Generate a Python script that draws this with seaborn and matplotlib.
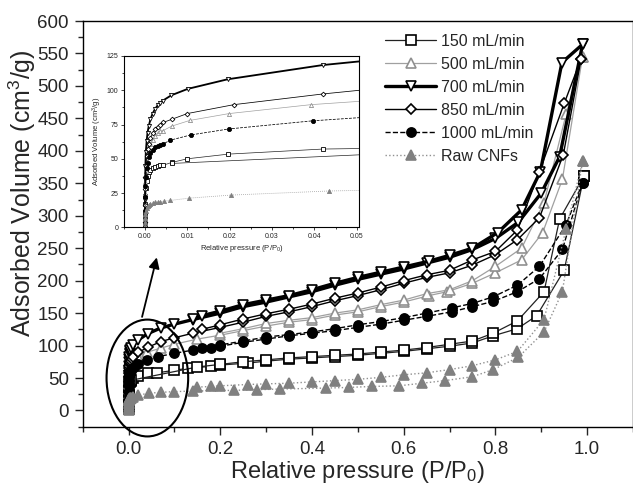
import numpy as np
import matplotlib
matplotlib.use("Agg")
import matplotlib.pyplot as plt
import seaborn as sns
from matplotlib.patches import Ellipse
from matplotlib.ticker import MultipleLocator, FormatStrFormatter

# ---- data (P/P0, adsorbed volume cm3/g) ----
p150_ads = [0.00001, 0.00003, 0.00006, 0.0001, 0.0002, 0.0004, 0.0006, 0.0009, 0.0013, 0.0018,
            0.0024, 0.003, 0.0036, 0.0043, 0.0063, 0.010, 0.0197, 0.042, 0.063, 0.10, 0.13, 0.18,
            0.20, 0.26, 0.30, 0.35, 0.40, 0.45, 0.50, 0.55, 0.60, 0.65, 0.70, 0.75, 0.795, 0.848,
            0.89, 0.95, 0.993]
v150_ads = [2, 9, 17, 23, 29, 34, 37.5, 40, 42, 43.5, 44.3, 44.8, 45.1, 45.3, 47.3, 50, 53.4,
            57.1, 58, 62, 65, 68, 70, 73, 76, 79, 81, 83, 85, 88, 91, 95, 99, 104, 115, 126, 146,
            216, 361]
p150_des = [0.993, 0.94, 0.906, 0.848, 0.795, 0.75, 0.70, 0.65, 0.60, 0.55, 0.50, 0.45, 0.40,
            0.35, 0.30, 0.25, 0.20, 0.15, 0.0063]
v150_des = [361, 295, 183, 138, 119, 107, 102, 97, 93, 90, 87, 85, 83, 81, 78, 75, 71, 67, 46.6]

p500_ads = [0.00001, 0.00003, 0.00006, 0.0001, 0.0002, 0.0004, 0.0006, 0.0009, 0.0013, 0.0018,
            0.0024, 0.003, 0.0036, 0.0043, 0.0063, 0.0106, 0.0199, 0.0392, 0.07, 0.10, 0.15, 0.20,
            0.25, 0.30, 0.35, 0.40, 0.45, 0.50, 0.55, 0.60, 0.655, 0.695, 0.75, 0.80, 0.857,
            0.903, 0.946, 0.99]
v500_ads = [3, 14, 25, 33, 41, 48, 53, 57, 61, 64, 66.5, 68.5, 70, 70.6, 73.8, 78, 83, 89.5,
            96, 102, 110, 116, 123, 130, 136, 140, 147, 152, 160, 167, 177, 183, 196, 212, 232,
            274, 356, 545]
p500_des = [0.99, 0.954, 0.906, 0.857, 0.80, 0.75, 0.70, 0.65, 0.60, 0.55, 0.50, 0.45, 0.40,
            0.35, 0.30, 0.25, 0.20]
v500_des = [545, 456, 320, 250, 222, 200, 186, 180, 170, 163, 155, 150, 143, 139, 134, 126, 119]

p700_ads = [0.00001, 0.00003, 0.00006, 0.0001, 0.0002, 0.0004, 0.0006, 0.0009, 0.0013, 0.0018,
            0.0024, 0.003, 0.0036, 0.0042, 0.0062, 0.0101, 0.0195, 0.042, 0.07, 0.10, 0.14, 0.20,
            0.25, 0.30, 0.35, 0.40, 0.45, 0.50, 0.55, 0.60, 0.65, 0.70, 0.75, 0.80, 0.85, 0.90,
            0.94, 0.99]
v700_ads = [5, 20, 35, 45, 55, 63, 69, 74, 79, 83, 86.5, 89, 91, 92.4, 96.3, 101, 108, 118.4,
            127, 133, 140, 150, 160, 167, 175, 183, 193, 202, 210, 218, 227, 236, 248, 265, 290,
            335, 391, 564]
p700_des = [0.99, 0.945, 0.898, 0.857, 0.805, 0.75, 0.70, 0.655, 0.60, 0.55, 0.50, 0.45, 0.40,
            0.35, 0.30, 0.25, 0.20, 0.16, 0.14]
v700_des = [564, 536, 368, 309, 274, 250, 239, 230, 221, 213, 205, 196, 186, 177, 170, 163, 153,
            146, 141]

p850_ads = [0.00001, 0.00003, 0.00006, 0.0001, 0.0002, 0.0004, 0.0006, 0.0009, 0.0013, 0.0018,
            0.0024, 0.003, 0.0036, 0.0043, 0.0065, 0.010, 0.021, 0.042, 0.07, 0.10, 0.14, 0.20,
            0.25, 0.30, 0.35, 0.40, 0.45, 0.50, 0.55, 0.60, 0.65, 0.70, 0.75, 0.80, 0.848, 0.896,
            0.948, 0.987]
v850_ads = [4, 16, 28, 37, 45, 52, 57, 61, 65, 68.5, 71.5, 73.5, 75, 76.5, 79, 83, 89.5, 97.3,
            106, 112, 119, 128, 136, 145, 152, 160, 169, 177, 186, 196, 205, 212, 224, 240, 263,
            297, 394, 542]
p850_des = [0.987, 0.95, 0.896, 0.848, 0.80, 0.75, 0.70, 0.65, 0.60, 0.55, 0.50, 0.45, 0.40,
            0.35, 0.30, 0.25, 0.20, 0.16]
v850_des = [542, 473, 368, 278, 245, 232, 216, 209, 200, 190, 181, 173, 164, 156, 149, 141, 132,
            125]

p1000_ads = [0.00001, 0.00003, 0.00006, 0.0001, 0.0002, 0.0004, 0.0006, 0.0009, 0.0013, 0.0018,
             0.0024, 0.003, 0.0036, 0.0043, 0.0059, 0.0108, 0.0199, 0.0396, 0.065, 0.10, 0.14,
             0.18, 0.20, 0.25, 0.30, 0.35, 0.40, 0.45, 0.50, 0.55, 0.60, 0.65, 0.705, 0.75, 0.795,
             0.848, 0.896, 0.946, 0.99]
v1000_ads = [3, 12, 22, 30, 37, 43, 47, 51, 54, 56.5, 58.5, 59.5, 60.2, 60.8, 63.5, 67.4, 71.8,
             77.7, 83, 88, 93, 97, 99, 105, 110, 115, 119, 123, 128, 133, 139, 145, 152, 160, 168,
             183, 203, 248, 351]
p1000_des = [0.99, 0.954, 0.896, 0.848, 0.795, 0.75, 0.705, 0.65, 0.60, 0.55, 0.50, 0.45, 0.40,
             0.35, 0.30, 0.25, 0.20, 0.16]
v1000_des = [351, 286, 222, 193, 175, 165, 158, 150, 143, 137, 132, 126, 121, 117, 113, 107, 101,
             96]

praw_ads = [0.00001, 0.00003, 0.00006, 0.0001, 0.0002, 0.0004, 0.0006, 0.0009, 0.0013, 0.0018,
            0.0024, 0.003, 0.0036, 0.0045, 0.0059, 0.0105, 0.0203, 0.0435, 0.07, 0.10, 0.14, 0.23,
            0.28, 0.33, 0.43, 0.48, 0.53, 0.59, 0.64, 0.69, 0.75, 0.795, 0.85, 0.906, 0.946, 0.99]
vraw_ads = [1, 4, 7, 9.5, 12, 14, 15.5, 16.5, 17.3, 17.8, 18.2, 18.5, 18.8, 19.0, 19.6, 21.3,
            23.5, 26.5, 28, 29, 30, 31, 32, 33, 34.5, 35.5, 37, 38, 42, 46, 52, 63, 82, 121, 183,
            384]
praw_des = [0.99, 0.954, 0.906, 0.848, 0.80, 0.75, 0.70, 0.65, 0.60, 0.55, 0.50, 0.45, 0.40,
            0.35, 0.30, 0.26, 0.20, 0.18, 0.15]
vraw_des = [384, 279, 140, 91, 78, 69, 63, 58, 55, 51, 48, 46, 44, 42, 41, 40, 38, 37, 36]

labels = ["150 mL/min", "500 mL/min", "700 mL/min", "850 mL/min", "1000 mL/min", "Raw CNFs"]

series = [
    (p150_ads, v150_ads, p150_des, v150_des,
     dict(color="#222222", lw=0.9, ls="-", marker="s", mfc="white", mec="black")),
    (p500_ads, v500_ads, p500_des, v500_des,
     dict(color="#a0a0a0", lw=0.9, ls="-", marker="^", mfc="white", mec="#909090")),
    (p700_ads, v700_ads, p700_des, v700_des,
     dict(color="black", lw=2.4, ls="-", marker="v", mfc="white", mec="black")),
    (p850_ads, v850_ads, p850_des, v850_des,
     dict(color="black", lw=1.0, ls="-", marker="D", mfc="white", mec="black")),
    (p1000_ads, v1000_ads, p1000_des, v1000_des,
     dict(color="black", lw=1.0, ls="--", marker="o", mfc="black", mec="black")),
    (praw_ads, vraw_ads, praw_des, vraw_des,
     dict(color="#909090", lw=1.0, ls=":", marker="^", mfc="#808080", mec="#808080")),
]

sns.set_style("ticks")
plt.rcParams["font.family"] = ["Liberation Sans", "DejaVu Sans"]
plt.rcParams["mathtext.default"] = "regular"

fig = plt.figure(figsize=(6.33, 4.90), dpi=100)
ax = fig.add_axes([82.7 / 633, 1 - 426.7 / 490, (633 - 82.7) / 633, (426.7 - 21) / 490])
axin = fig.add_axes([123.8 / 633, 1 - 227.3 / 490, (358.8 - 123.8) / 633, (227.3 - 56) / 490])


def draw(target, p, v, st, ms, mew, label=None, lw_scale=1.0):
    sz = ms * (0.8 if st["marker"] == "D" else 1.0)
    sns.lineplot(x=p, y=v, ax=target, sort=False, estimator=None, color=st["color"],
                 linewidth=st["lw"] * lw_scale, linestyle=st["ls"], marker=st["marker"],
                 markersize=sz, markerfacecolor=st["mfc"], markeredgecolor=st["mec"],
                 markeredgewidth=mew, label=label)


for (pa, va, pd_, vd, st), lab in zip(series, labels):
    draw(ax, pa, va, st, 6.6, 1.2, label=lab)
    draw(ax, pd_, vd, st, 6.6, 1.2)
    draw(axin, pa, va, st, 3.0, 0.6, lw_scale=0.55)
    draw(axin, pd_, vd, st, 3.0, 0.6, lw_scale=0.55)

# main axes
ax.set_xlim(-0.1, 1.1)
ax.set_ylim(-25, 600)
ax.xaxis.set_major_locator(MultipleLocator(0.2))
ax.xaxis.set_minor_locator(MultipleLocator(0.1))
ax.yaxis.set_major_locator(MultipleLocator(50))
ax.yaxis.set_minor_locator(MultipleLocator(25))
ax.tick_params(which="major", direction="out", length=6, width=1, labelsize=13.5, pad=4)
ax.tick_params(which="minor", direction="out", length=3.5, width=1)
ax.set_xlabel("Relative pressure (P/P$_0$)", fontsize=17, labelpad=1)
ax.set_ylabel("Adsorbed Volume (cm$^3$/g)", fontsize=18)
ax.yaxis.set_label_coords(-0.082, 0.575)
for s in ax.spines.values():
    s.set_linewidth(1.0)
    s.set_color("black")

leg = ax.legend(loc="upper left", bbox_to_anchor=(385 / 633, 1 - 34 / 490),
                bbox_transform=fig.transFigure, frameon=False, fontsize=11.5,
                handlelength=3.2, handletextpad=0.3, labelspacing=0.5, borderpad=0,
                borderaxespad=0)

# inset axes
axin.set_xlim(-0.005, 0.0505)
axin.set_ylim(0, 125)
axin.xaxis.set_major_locator(MultipleLocator(0.01))
axin.xaxis.set_minor_locator(MultipleLocator(0.005))
axin.yaxis.set_major_locator(MultipleLocator(25))
axin.yaxis.set_minor_locator(MultipleLocator(12.5))
axin.xaxis.set_major_formatter(FormatStrFormatter("%.2f"))
axin.tick_params(which="major", direction="out", length=2.5, width=0.6, labelsize=5, pad=1.5)
axin.tick_params(which="minor", direction="out", length=1.5, width=0.6)
axin.set_xlabel("Relative pressure (P/P$_0$)", fontsize=5.5, labelpad=2)
axin.set_ylabel("Adsorbed Volume (cm$^3$/g)", fontsize=5.5, labelpad=2)
for s in axin.spines.values():
    s.set_linewidth(0.8)
    s.set_color("black")

# ellipse around the low pressure region and the arrow to the inset
ax.add_patch(Ellipse((0.041, 50), 0.178, 180, fill=False, edgecolor="black", lw=1.5,
                     clip_on=False, zorder=5))
ax.annotate("", xy=(0.063, 240), xytext=(0.028, 140),
            arrowprops=dict(arrowstyle="-|>", color="black", lw=1.3, mutation_scale=16))

fig.savefig("out.png", dpi=100)
